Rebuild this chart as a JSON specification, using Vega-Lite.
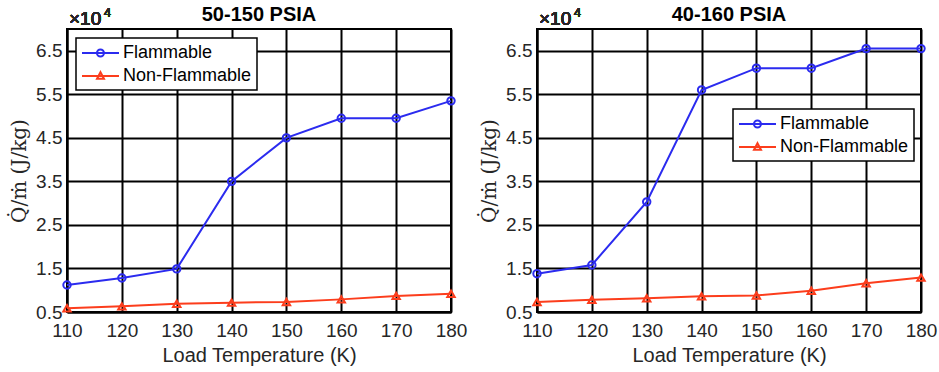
{
  "$schema": "https://vega.github.io/schema/vega-lite/v6.json",
  "background": "white",
  "padding": {"left": 8, "top": 4, "right": 6, "bottom": 2},
  "spacing": 10,
  "datasets": {
    "left": [
      {"T": 110, "Q": 11200, "series": "Flammable"},
      {"T": 120, "Q": 12800, "series": "Flammable"},
      {"T": 130, "Q": 14900, "series": "Flammable"},
      {"T": 140, "Q": 35000, "series": "Flammable"},
      {"T": 150, "Q": 45000, "series": "Flammable"},
      {"T": 160, "Q": 49500, "series": "Flammable"},
      {"T": 170, "Q": 49500, "series": "Flammable"},
      {"T": 180, "Q": 53500, "series": "Flammable"},
      {"T": 110, "Q": 5850, "series": "Non-Flammable"},
      {"T": 120, "Q": 6300, "series": "Non-Flammable"},
      {"T": 130, "Q": 6900, "series": "Non-Flammable"},
      {"T": 140, "Q": 7150, "series": "Non-Flammable"},
      {"T": 150, "Q": 7300, "series": "Non-Flammable"},
      {"T": 160, "Q": 7900, "series": "Non-Flammable"},
      {"T": 170, "Q": 8700, "series": "Non-Flammable"},
      {"T": 180, "Q": 9200, "series": "Non-Flammable"}
    ],
    "right": [
      {"T": 110, "Q": 13800, "series": "Flammable"},
      {"T": 120, "Q": 15800, "series": "Flammable"},
      {"T": 130, "Q": 30300, "series": "Flammable"},
      {"T": 140, "Q": 56000, "series": "Flammable"},
      {"T": 150, "Q": 61000, "series": "Flammable"},
      {"T": 160, "Q": 61000, "series": "Flammable"},
      {"T": 170, "Q": 65500, "series": "Flammable"},
      {"T": 180, "Q": 65500, "series": "Flammable"},
      {"T": 110, "Q": 7300, "series": "Non-Flammable"},
      {"T": 120, "Q": 7800, "series": "Non-Flammable"},
      {"T": 130, "Q": 8150, "series": "Non-Flammable"},
      {"T": 140, "Q": 8600, "series": "Non-Flammable"},
      {"T": 150, "Q": 8800, "series": "Non-Flammable"},
      {"T": 160, "Q": 9900, "series": "Non-Flammable"},
      {"T": 170, "Q": 11600, "series": "Non-Flammable"},
      {"T": 180, "Q": 12900, "series": "Non-Flammable"}
    ]
  },
  "hconcat": [
    {
      "width": 384,
      "height": 283,
      "title": {"text": "50-150 PSIA"},
      "data": {"name": "left"},
      "encoding": {
        "x": {"field": "T", "type": "quantitative", "scale": {"domain": [110, 180], "nice": false},
              "axis": {"values": [110, 120, 130, 140, 150, 160, 170, 180], "title": "Load Temperature (K)"}},
        "y": {"field": "Q", "type": "quantitative", "scale": {"domain": [5000, 70000], "nice": false, "zero": false},
              "axis": {"values": [5000, 15000, 25000, 35000, 45000, 55000, 65000], "labelExpr": "format(datum.value/10000, '.1f')", "title": "Q̇/ṁ (J/kg)"}}
      },
      "layer": [
        {"mark": {"type": "line", "strokeWidth": 2},
         "encoding": {"color": {"field": "series", "type": "nominal",
                                "scale": {"domain": ["Flammable", "Non-Flammable"], "range": ["#2b2bef", "#fc3d1c"]},
                                "legend": {"orient": "top-left", "offset": 9}}}},
        {"transform": [{"filter": "datum.series === 'Flammable'"}],
         "mark": {"type": "point", "shape": "circle", "filled": false, "strokeWidth": 2, "size": 55, "opacity": 1, "color": "#2b2bef"}},
        {"transform": [{"filter": "datum.series === 'Non-Flammable'"}],
         "mark": {"type": "point", "shape": "triangle-up", "filled": false, "strokeWidth": 2, "size": 55, "opacity": 1, "color": "#fc3d1c"}},
        {"mark": {"type": "point", "filled": false, "strokeWidth": 2, "size": 0, "opacity": 1},
         "encoding": {
           "color": {"field": "series", "type": "nominal", "legend": {"orient": "top-left", "offset": 9}},
           "shape": {"field": "series", "type": "nominal",
                     "scale": {"domain": ["Flammable", "Non-Flammable"], "range": ["M-1,0H3.11M1.44,0A0.39,0.39 0 1,1 0.66,0A0.39,0.39 0 1,1 1.44,0", "M-1,0H3.11M1.055,-0.42L1.44,0.3L0.67,0.3Z"]},
                     "legend": {"orient": "top-left", "offset": 9}}}},
        {"mark": {"type": "text", "text": "×10", "align": "left", "baseline": "alphabetic", "dy": -4, "dx": 2, "fontSize": 19, "font": "Liberation Sans"},
         "encoding": {"x": {"datum": 110}, "y": {"datum": 70000}, "color": {"value": "#262626"}}},
        {"mark": {"type": "text", "text": "4", "align": "left", "baseline": "alphabetic", "dy": -12, "dx": 37, "fontSize": 12.5, "font": "Liberation Sans"},
         "encoding": {"x": {"datum": 110}, "y": {"datum": 70000}, "color": {"value": "#262626"}}}
      ]
    },
    {
      "width": 384,
      "height": 283,
      "title": {"text": "40-160 PSIA"},
      "data": {"name": "right"},
      "encoding": {
        "x": {"field": "T", "type": "quantitative", "scale": {"domain": [110, 180], "nice": false},
              "axis": {"values": [110, 120, 130, 140, 150, 160, 170, 180], "title": "Load Temperature (K)"}},
        "y": {"field": "Q", "type": "quantitative", "scale": {"domain": [5000, 70000], "nice": false, "zero": false},
              "axis": {"values": [5000, 15000, 25000, 35000, 45000, 55000, 65000], "labelExpr": "format(datum.value/10000, '.1f')", "title": "Q̇/ṁ (J/kg)"}}
      },
      "layer": [
        {"mark": {"type": "line", "strokeWidth": 2},
         "encoding": {"color": {"field": "series", "type": "nominal",
                                "scale": {"domain": ["Flammable", "Non-Flammable"], "range": ["#2b2bef", "#fc3d1c"]},
                                "legend": {"orient": "none", "legendX": 196, "legendY": 80}}}},
        {"transform": [{"filter": "datum.series === 'Flammable'"}],
         "mark": {"type": "point", "shape": "circle", "filled": false, "strokeWidth": 2, "size": 55, "opacity": 1, "color": "#2b2bef"}},
        {"transform": [{"filter": "datum.series === 'Non-Flammable'"}],
         "mark": {"type": "point", "shape": "triangle-up", "filled": false, "strokeWidth": 2, "size": 55, "opacity": 1, "color": "#fc3d1c"}},
        {"mark": {"type": "point", "filled": false, "strokeWidth": 2, "size": 0, "opacity": 1},
         "encoding": {
           "color": {"field": "series", "type": "nominal", "legend": {"orient": "none", "legendX": 196, "legendY": 80}},
           "shape": {"field": "series", "type": "nominal",
                     "scale": {"domain": ["Flammable", "Non-Flammable"], "range": ["M-1,0H3.11M1.44,0A0.39,0.39 0 1,1 0.66,0A0.39,0.39 0 1,1 1.44,0", "M-1,0H3.11M1.055,-0.42L1.44,0.3L0.67,0.3Z"]},
                     "legend": {"orient": "none", "legendX": 196, "legendY": 80}}}},
        {"mark": {"type": "text", "text": "×10", "align": "left", "baseline": "alphabetic", "dy": -4, "dx": 2, "fontSize": 19, "font": "Liberation Sans"},
         "encoding": {"x": {"datum": 110}, "y": {"datum": 70000}, "color": {"value": "#262626"}}},
        {"mark": {"type": "text", "text": "4", "align": "left", "baseline": "alphabetic", "dy": -12, "dx": 37, "fontSize": 12.5, "font": "Liberation Sans"},
         "encoding": {"x": {"datum": 110}, "y": {"datum": 70000}, "color": {"value": "#262626"}}}
      ]
    }
  ],
  "resolve": {"scale": {"color": "independent", "shape": "independent"}, "legend": {"color": "independent", "shape": "independent"}},
  "config": {
    "font": "Liberation Sans",
    "view": {"stroke": "black", "strokeWidth": 2},
    "title": {"font": "Liberation Sans", "fontSize": 20, "fontWeight": "bold", "color": "black", "offset": -18, "frame": "group"},
    "axis": {
      "labelFont": "Liberation Sans", "labelFontSize": 19, "labelColor": "#262626",
      "titleFont": "Liberation Sans", "titleFontSize": 20, "titleColor": "#262626", "titleFontWeight": "normal",
      "grid": true, "gridColor": "black", "gridWidth": 2, "gridOpacity": 1,
      "domain": true, "domainColor": "black", "domainWidth": 2,
      "ticks": false, "labelPadding": 5
    },
    "axisX": {"titlePadding": 5, "labelFlush": false, "labelPadding": 9},
    "axisY": {"titleFont": "DejaVu Serif", "titleFontSize": 20, "titlePadding": 6, "labelFlush": false},
    "legend": {
      "title": null, "strokeColor": "black", "fillColor": "white", "padding": 5, "strokeWidth": 1.5,
      "labelFont": "Liberation Sans", "labelFontSize": 18, "labelColor": "black", "labelOffset": 22,
      "symbolSize": 324, "symbolStrokeWidth": 2, "symbolFillColor": "transparent", "rowPadding": 4,
      "cornerRadius": 0
    }
  }
}
